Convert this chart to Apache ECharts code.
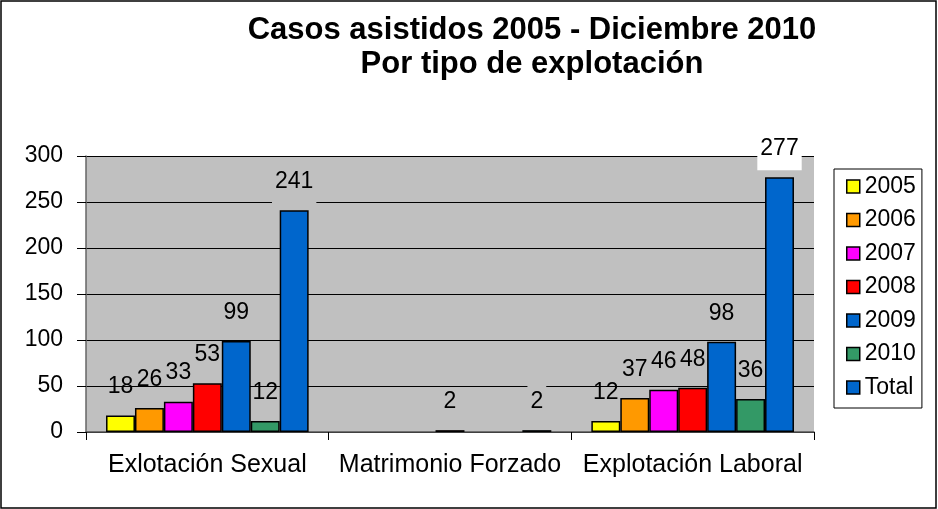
<!DOCTYPE html>
<html>
<head>
<meta charset="utf-8">
<script src="https://cdn.jsdelivr.net/npm/echarts@6/dist/echarts.min.js"></script>
<style>
  html, body { margin: 0; padding: 0; background: #fff; }
  #chart { width: 938px; height: 509px; }
</style>
</head>
<body>
<div id="chart"></div>
<script>
  // categorias y valores
  const categories = ['Exlotación Sexual', 'Matrimonio Forzado', 'Explotación Laboral']
  const seriesNames = ['2005', '2006', '2007', '2008', '2009', '2010', 'Total']
  const v2005 = [18, null, 12]
  const v2006 = [26, null, 37]
  const v2007 = [33, null, 46]
  const v2008 = [53, 2, 48]
  const v2009 = [99, null, 98]
  const v2010 = [12, null, 36]
  const vTotal = [241, 2, 277]
  const yTicks = [0, 50, 100, 150, 200, 250, 300]

  const values = [v2005, v2006, v2007, v2008, v2009, v2010, vTotal]
  const colors = ['#FFFF00', '#FF9900', '#FF00FF', '#FF0000', '#0066CC', '#339966', '#0066CC']
  const font = 'Liberation Sans, Arial, sans-serif'
  const plotBg = '#C0C0C0'

  const chart = echarts.init(document.getElementById('chart'))

  const series = seriesNames.map((name, i) => ({
    name: name,
    type: 'bar',
    barGap: 0,
    barCategoryGap: '16.5%',
    itemStyle: {
      color: colors[i],
      borderColor: '#000',
      borderWidth: 1.5
    },
    label: {
      show: true,
      position: 'top',
      distance: 7,
      padding: [10, 3],
      color: '#000',
      fontFamily: font,
      fontSize: 23,
      backgroundColor: name === 'Total' ? plotBg : 'transparent'
    },
    data: values[i].map((v, j) => {
      // la etiqueta de 277 tiene fondo blanco en el original
      if (name === 'Total' && j === 2) {
        return { value: v, label: { backgroundColor: '#fff' } }
      }
      return v
    })
  }))

  chart.setOption({
    animation: false,
    color: colors,
    title: {
      text: 'Casos asistidos 2005 - Diciembre 2010\nPor tipo de explotación',
      left: 527,
      top: 8,
      textAlign: 'center',
      textStyle: {
        fontFamily: font,
        fontSize: 31,
        fontWeight: 'bold',
        color: '#000',
        lineHeight: 34
      }
    },
    legend: {
      orient: 'vertical',
      left: 834,
      top: 169,
      icon: 'rect',
      itemWidth: 13,
      itemHeight: 13,
      itemGap: 10.5,
      padding: [6, 6, 9, 12],
      borderColor: '#000',
      borderWidth: 1,
      itemStyle: {
        borderColor: '#000',
        borderWidth: 1.5
      },
      textStyle: {
        fontFamily: font,
        fontSize: 23,
        lineHeight: 22,
        color: '#000'
      },
      data: seriesNames
    },
    grid: {
      left: 86,
      top: 156,
      right: 124,
      bottom: 77,
      show: true,
      backgroundColor: plotBg,
      borderWidth: 0
    },
    xAxis: {
      type: 'category',
      data: categories,
      axisLine: { lineStyle: { color: '#555', width: 1.5 } },
      axisTick: { show: true, length: 8, lineStyle: { color: '#000' } },
      axisLabel: {
        interval: 0,
        margin: 21,
        color: '#000',
        fontFamily: font,
        fontSize: 25
      }
    },
    yAxis: {
      type: 'value',
      min: yTicks[0],
      max: yTicks[yTicks.length - 1],
      interval: 50,
      axisLine: { show: true, lineStyle: { color: '#666', width: 1.5 } },
      axisTick: { show: true, length: 9, lineStyle: { color: '#000' } },
      axisLabel: {
        margin: 23,
        color: '#000',
        fontFamily: font,
        fontSize: 23
      },
      splitLine: { lineStyle: { color: '#000', width: 1 } }
    },
    graphic: [{
      type: 'rect',
      shape: { x: 1, y: 1, width: 935, height: 507 },
      style: { fill: 'none', stroke: '#000', lineWidth: 1.5 },
      silent: true
    }],
    series: series
  })
</script>
</body>
</html>
